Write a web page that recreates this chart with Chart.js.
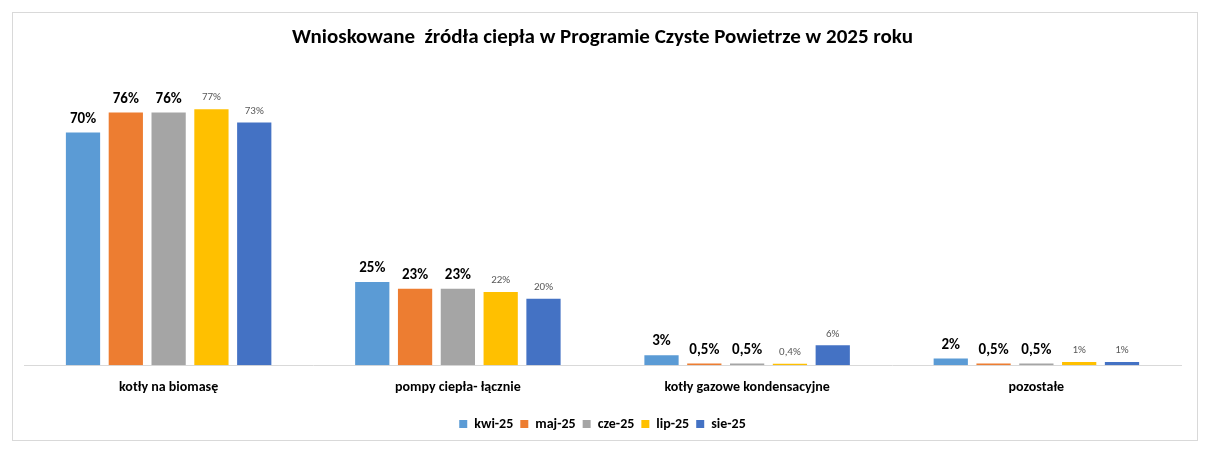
<!DOCTYPE html>
<html><head><meta charset="utf-8">
<script src="https://cdn.jsdelivr.net/npm/chart.js@4"></script>
<style>html,body{margin:0;padding:0;background:#fff}#w{width:1210px;height:451px}</style>
</head><body><div id="w"><canvas id="c"></canvas></div>
<script>
const categories = ["kotły na biomasę","pompy ciepła- łącznie","kotły gazowe kondensacyjne","pozostałe"];
const seriesNames = ["kwi-25","maj-25","cze-25","lip-25","sie-25"];
const kwi = [70,25,3,2];
const maj = [76,23,0.5,0.5];
const cze = [76,23,0.5,0.5];
const lip = [77,22,0.4,1];
const sie = [73,20,6,1];
const labels = [["70%","25%","3%","2%"],["76%","23%","0,5%","0,5%"],["76%","23%","0,5%","0,5%"],["77%","22%","0,4%","1%"],["73%","20%","6%","1%"]];
const colors = ["#5B9BD5","#ED7D31","#A5A5A5","#FFC000","#4472C4"];
const values=[kwi,maj,cze,lip,sie];
const frame={id:'frame',afterDraw(c){const x=c.ctx;x.save();x.strokeStyle='#d9d9d9';x.lineWidth=1;x.strokeRect(12.5,12.5,1185,428);x.restore();}};
const dl={id:'dl',afterDatasetsDraw(c){const x=c.ctx;x.save();x.textAlign='center';x.textBaseline='bottom';
c.data.datasets.forEach((d,i)=>{const m=c.getDatasetMeta(i);const big=i<3;
x.font=big?'bold 15px Calibri, Carlito, "Liberation Sans", sans-serif':'11px Calibri, Carlito, "Liberation Sans", sans-serif';
x.fillStyle=big?'#000':'#595959';
m.data.forEach((b,j)=>{x.fillText(labels[i][j],b.x,b.y-6);});});x.restore();}};
new Chart(document.getElementById('c'),{type:'bar',
data:{labels:categories,datasets:seriesNames.map((n,i)=>({label:n,data:values[i],backgroundColor:colors[i],categoryPercentage:0.74,barPercentage:0.8}))},
options:{responsive:true,maintainAspectRatio:false,animation:false,
layout:{padding:{left:24,right:29,top:14,bottom:10}},
plugins:{title:{display:true,text:"Wnioskowane  źródła ciepła w Programie Czyste Powietrze w 2025 roku",color:'#000',font:{size:21,weight:'bold',family:'Calibri, Carlito, "Liberation Sans", sans-serif'},padding:{top:11,bottom:49}},
legend:{position:'bottom',labels:{boxWidth:8,boxHeight:8,padding:7,color:'#000',font:{size:14,weight:'bold',family:'Calibri, Carlito, "Liberation Sans", sans-serif'}}},tooltip:{enabled:false}},
scales:{y:{display:false,min:0,max:80},x:{grid:{display:false,drawTicks:false},border:{color:'#d9d9d9'},ticks:{padding:14,color:'#000',font:{size:14,weight:'bold',family:'Calibri, Carlito, "Liberation Sans", sans-serif'}}}}},
plugins:[frame,dl]});
</script></body></html>
